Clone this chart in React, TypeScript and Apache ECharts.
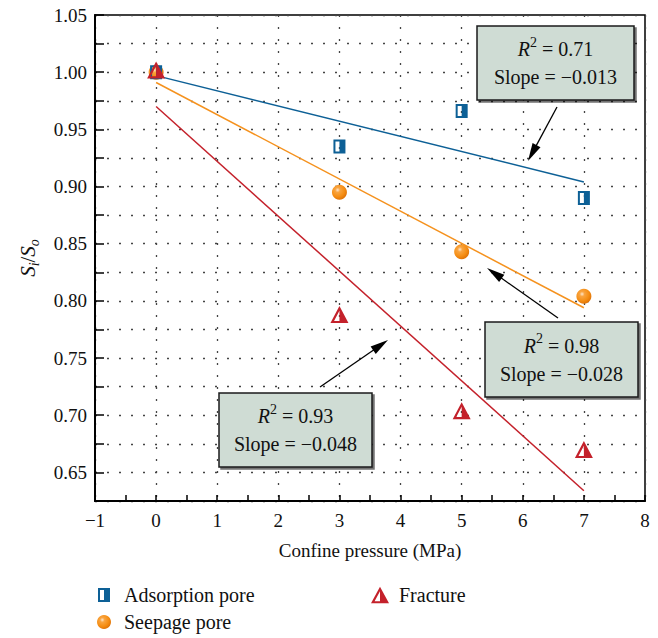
import React, { useEffect, useRef } from "react";
import * as echarts from "echarts";

const pressures = [0, 3, 5, 7];
const adsorption = [1.0, 0.935, 0.966, 0.89];
const seepage = [1.0, 0.895, 0.843, 0.804];
const fracture = [1.002, 0.788, 0.704, 0.67];
const fitX = [0, 7];
const adsorptionFit = [0.997, 0.904];
const seepageFit = [0.991, 0.794];
const fractureFit = [0.97, 0.634];
const annotations = [
  { r2: "0.71", slope: "−0.013" },
  { r2: "0.98", slope: "−0.028" },
  { r2: "0.93", slope: "−0.048" },
];

const FONT = "'Liberation Serif', 'DejaVu Serif', serif";
const BLUE = "#0d6096";
const ORANGE = "#f5921e";
const RED = "#c4212b";

const pair = (xs: number[], ys: number[]) => xs.map((x, i) => [x, ys[i]]);

function arrow(tx: number, ty: number, hx: number, hy: number) {
  const dx = hx - tx;
  const dy = hy - ty;
  const len = Math.sqrt(dx * dx + dy * dy);
  const ux = dx / len;
  const uy = dy / len;
  const L = 18;
  const W = 4.5;
  const bx = hx - ux * L;
  const by = hy - uy * L;
  return [
    {
      type: "line",
      shape: { x1: tx, y1: ty, x2: bx + ux * 4, y2: by + uy * 4 },
      style: { stroke: "#000", lineWidth: 1.3 },
      z: 20,
    },
    {
      type: "polygon",
      shape: {
        points: [
          [hx, hy],
          [bx - uy * W, by + ux * W],
          [bx + uy * W, by - ux * W],
        ],
      },
      style: { fill: "#000" },
      z: 20,
    },
  ];
}

function box(x: number, y: number, w: number, h: number, a: { r2: string; slope: string }) {
  return [
    {
      type: "rect",
      shape: { x, y, width: w, height: h },
      style: {
        fill: "#cfdcd4",
        stroke: "#1a1a1a",
        lineWidth: 1.5,
        shadowColor: "rgba(0,0,0,0.55)",
        shadowOffsetX: 2,
        shadowOffsetY: 2,
        shadowBlur: 1,
      },
      z: 20,
    },
    {
      type: "text",
      x: x + w / 2,
      y: y + h / 2,
      style: {
        text: `{i|R}{s|2}{n| = ${a.r2}}\n{n|Slope = ${a.slope}}`,
        align: "center",
        verticalAlign: "middle",
        fill: "#111",
        font: `20px ${FONT}`,
        rich: {
          i: { fontFamily: FONT, fontSize: 20, fontStyle: "italic", lineHeight: 28 },
          s: { fontFamily: FONT, fontSize: 14, lineHeight: 22, verticalAlign: "top" },
          n: { fontFamily: FONT, fontSize: 20, lineHeight: 28 },
        },
      },
      z: 21,
    },
  ];
}

export default function App() {
  const ref = useRef<HTMLDivElement>(null);
  useEffect(() => {
    if (!ref.current) return;
    const chart = echarts.init(ref.current, undefined, { renderer: "svg" });
    const sphere = new echarts.graphic.RadialGradient(0.38, 0.35, 0.65, [
      { offset: 0, color: "#fde6cc" },
      { offset: 0.25, color: "#f9a440" },
      { offset: 0.7, color: "#f58e14" },
      { offset: 1, color: "#e27608" },
    ]);
    const lineSeries = (name: string, ys: number[], color: string) => ({
      name,
      type: "line",
      data: pair(fitX, ys),
      symbol: "none",
      lineStyle: { color, width: 1.5 },
      z: 2,
      silent: true,
    });
    const option: any = {
      animation: false,
      backgroundColor: "#fff",
      grid: {
        left: 95,
        right: 13,
        top: 15,
        bottom: 137,
        show: true,
        borderColor: "#000",
        borderWidth: 1.5,
        backgroundColor: "transparent",
      },
      xAxis: {
        type: "value",
        min: -1,
        max: 8,
        interval: 1,
        name: "Confine pressure (MPa)",
        nameLocation: "middle",
        nameGap: 40,
        nameTextStyle: { fontFamily: FONT, fontSize: 19, color: "#111" },
        axisLine: { show: true, onZero: false, lineStyle: { color: "#000", width: 2 } },
        axisTick: { show: true, inside: true, length: 6, lineStyle: { color: "#000", width: 1.5 } },
        minorTick: { show: true, splitNumber: 2, length: 6, lineStyle: { color: "#000", width: 1.5 } },
        axisLabel: {
          margin: 10,
          fontFamily: FONT,
          fontSize: 19,
          color: "#111",
          formatter: (v: number) => (v < 0 ? "−" + Math.abs(v) : String(v)),
        },
        splitLine: { show: true, lineStyle: { color: "#444", width: 1.3, type: [2, 10] } },
      },
      yAxis: {
        type: "value",
        min: 0.625,
        max: 1.05,
        interval: 0.025,
        name: "{i|S}{b|i}{n|/}{i|S}{b|o}",
        nameLocation: "middle",
        nameGap: 54,
        nameTextStyle: {
          fontFamily: FONT,
          fontSize: 20,
          color: "#111",
          rich: {
            i: { fontFamily: FONT, fontSize: 21, fontStyle: "italic", lineHeight: 26, color: "#111" },
            n: { fontFamily: FONT, fontSize: 21, lineHeight: 26, color: "#111" },
            b: { fontFamily: FONT, fontSize: 14, fontStyle: "italic", lineHeight: 14, verticalAlign: "bottom", color: "#111" },
          },
        },
        axisLine: { show: true, onZero: false, lineStyle: { color: "#000", width: 2 } },
        axisTick: { show: true, inside: true, length: 9, lineStyle: { color: "#000", width: 1.5 } },
        axisLabel: {
          margin: 8,
          fontFamily: FONT,
          fontSize: 19,
          color: "#111",
          formatter: (v: number) =>
            Math.abs(v * 20 - Math.round(v * 20)) < 1e-6 ? v.toFixed(2) : "",
        },
        splitLine: { show: true, lineStyle: { color: "#444", width: 1.3, type: [2, 10] } },
      },
      legend: [
        {
          left: 97,
          top: 585,
          orient: "vertical",
          itemGap: 7,
          itemWidth: 14,
          itemHeight: 14,
          padding: 0,
          data: ["Adsorption pore", "Seepage pore"],
          textStyle: { fontFamily: FONT, fontSize: 20, color: "#111", padding: [0, 0, 0, 8] },
        },
        {
          left: 371,
          top: 585,
          orient: "vertical",
          itemWidth: 18,
          itemHeight: 17,
          padding: 0,
          data: ["Fracture"],
          textStyle: { fontFamily: FONT, fontSize: 20, color: "#111", padding: [0, 0, 0, 5] },
        },
      ],
      series: [
        lineSeries("fitA", adsorptionFit, BLUE),
        lineSeries("fitS", seepageFit, ORANGE),
        lineSeries("fitF", fractureFit, RED),
        {
          name: "Seepage pore",
          type: "scatter",
          data: pair(pressures, seepage),
          symbol: "circle",
          symbolSize: 15,
          itemStyle: { color: sphere, opacity: 1 },
          z: 3,
        },
        {
          name: "Adsorption pore",
          type: "scatter",
          data: pair(pressures, adsorption),
          symbol: "path://M0 0H12V14H0ZM2 2V12H6V2Z",
          symbolSize: [12, 14],
          itemStyle: { color: BLUE, opacity: 1 },
          z: 4,
        },
        {
          name: "Fracture",
          type: "scatter",
          data: pair(pressures, fracture),
          symbol: "path://M7 0L14 13L0 13ZM7 3.6L2.8 11.4L7 11.4Z",
          symbolSize: [18, 17],
          itemStyle: { color: RED, opacity: 1 },
          z: 5,
        },
      ],
      graphic: [
        ...box(477, 26, 157, 74, annotations[0]),
        ...box(485, 322, 153, 75, annotations[1]),
        ...box(219, 393, 153, 74, annotations[2]),
        ...arrow(557, 107, 528, 161),
        ...arrow(558, 318, 487, 268),
        ...arrow(320, 387, 388, 340),
      ],
    };
    chart.setOption(option);
    return () => chart.dispose();
  }, []);
  return (
    <div
      ref={ref}
      style={{ position: "fixed", left: 0, top: 0, width: 658, height: 638, background: "#fff" }}
    />
  );
}
